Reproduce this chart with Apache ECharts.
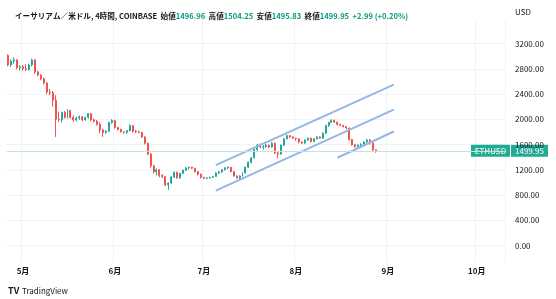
<!DOCTYPE html>
<html><head><meta charset="utf-8">
<script src="https://cdn.jsdelivr.net/npm/echarts@6/dist/echarts.min.js"></script>
<style>html,body{margin:0;padding:0;background:#fff}#c{width:556px;height:299px}</style>
</head><body><div id="c"></div>
<script>
// ---- data (daily candles, rows = [open, high, low, close]) ----
const startDate = '2022-04-26';
const dayCount = 168; // axis span through 10月10日
const aprCandles = [
  [3010,3030,2840,2860],[2860,2950,2830,2920],[2920,2980,2880,2940],[2940,2950,2790,2815],[2815,2860,2770,2830]
];
const mayCandles = [
  [2830,2860,2770,2800],[2800,2870,2760,2790],[2790,2880,2770,2860],[2860,2960,2840,2940],[2940,2950,2720,2750],
  [2750,2770,2680,2700],[2700,2710,2620,2640],[2640,2660,2550,2574],[2574,2590,2400,2430],[2430,2480,2380,2420],
  [2420,2450,2200,2300],[2300,2380,1720,2000],[2000,2120,1960,1990],[1990,2120,1950,2110],[2110,2130,2010,2030],
  [2030,2160,2010,2140],[2140,2150,2010,2030],[2030,2060,1960,1990],[1990,2040,1970,2020],[2020,2060,1990,2040],
  [2040,2050,1970,1990],[1990,2040,1980,2030],[2030,2100,2010,2090],[2090,2100,1970,1990],[1990,2010,1950,1970],
  [1970,1990,1900,1920],[1920,1950,1780,1830],[1830,1850,1720,1790],[1790,1830,1770,1810],[1810,1960,1800,1950],
  [1950,2000,1930,1980]
];
const junCandles = [
  [1980,1990,1850,1870],[1870,1880,1820,1840],[1840,1850,1790,1800],[1800,1810,1770,1790],[1790,1830,1770,1820],
  [1820,1920,1810,1900],[1900,1910,1790,1810],[1810,1830,1780,1800],[1800,1820,1780,1790],[1790,1800,1700,1720],
  [1720,1730,1600,1620],[1620,1630,1430,1450],[1450,1460,1230,1260],[1260,1280,1140,1170],[1170,1220,1110,1200],
  [1200,1210,1080,1110],[1110,1130,1070,1090],[1090,1100,940,960],[960,1000,880,990],[990,1100,980,1085],
  [1085,1170,1070,1160],[1160,1170,1060,1070],[1070,1150,1060,1145],[1145,1200,1130,1195],[1195,1240,1180,1230],
  [1230,1250,1200,1240],[1240,1250,1210,1225],[1225,1230,1160,1170],[1170,1180,1110,1130],[1130,1140,1060,1080]
];
const julCandles = [
  [1080,1090,1050,1065],[1065,1080,1050,1070],[1070,1090,1060,1080],[1080,1100,1070,1095],[1095,1160,1090,1150],
  [1150,1180,1130,1165],[1165,1210,1150,1200],[1200,1240,1190,1230],[1230,1250,1210,1240],[1240,1245,1160,1170],
  [1170,1180,1090,1100],[1100,1110,1060,1070],[1070,1110,1035,1100],[1100,1160,1090,1150],[1150,1250,1140,1240],
  [1240,1330,1230,1320],[1320,1400,1300,1390],[1390,1530,1380,1520],[1520,1610,1500,1590],[1590,1620,1540,1560],
  [1560,1590,1520,1565],[1565,1610,1550,1590],[1590,1600,1540,1560],[1560,1640,1550,1620],[1620,1630,1450,1465],
  [1465,1480,1380,1450],[1450,1600,1440,1590],[1590,1700,1580,1690],[1690,1760,1680,1740],[1740,1750,1700,1720],
  [1720,1730,1690,1700]
];
const augCandles = [
  [1700,1710,1660,1690],[1690,1700,1620,1640],[1640,1650,1610,1625],[1625,1680,1610,1670],[1670,1710,1660,1700],
  [1700,1710,1630,1645],[1645,1700,1640,1690],[1690,1730,1680,1720],[1720,1730,1690,1700],[1700,1790,1690,1780],
  [1780,1910,1770,1900],[1900,1960,1880,1950],[1950,2000,1940,1985],[1985,1990,1940,1955],[1955,1960,1900,1920],
  [1920,1930,1890,1905],[1905,1910,1870,1885],[1885,1890,1840,1860],[1860,1870,1660,1680],[1680,1690,1580,1595],
  [1595,1610,1550,1565],[1565,1600,1540,1590],[1590,1620,1570,1600],[1600,1650,1590,1640],[1640,1690,1630,1670],
  [1670,1690,1600,1625],[1625,1630,1500,1515],[1515,1520,1470,1499.95]
];
// channel lines: [date, price] endpoints
const channelUpper = [['2022-07-05',1273],['2022-09-03',2549]];
const channelMiddle = [['2022-07-05',870],['2022-09-03',2153]];
const channelLower = [['2022-08-15',1390],['2022-09-03',1806]];
// tick labels
const monthTickDates = ['2022-05-01','2022-06-01','2022-07-01','2022-08-01','2022-09-01','2022-10-01'];
const monthTickLabels = ['5月','6月','7月','8月','9月','10月'];
const yTicks = [0,400,800,1200,1600,2000,2400,2800,3200];
const lastPrice = 1499.95;
const symbolName = 'ETHUSD';
const titleMain = 'イーサリアム／米ドル, 4時間, COINBASE';
const ohlcNames = ['始値','高値','安値','終値'];
const ohlcValues = ['1496.96','1504.25','1495.83','1499.95'];
const changeText = '+2.99 (+0.20%)';

// ---- build ----
const categories = [];
{
  const d0 = new Date(startDate + 'T00:00:00Z');
  for (let i = 0; i < dayCount; i++) {
    const d = new Date(d0.getTime() + i * 86400000);
    categories.push(d.toISOString().slice(0, 10));
  }
}
const candles = [].concat(aprCandles, mayCandles, junCandles, julCandles, augCandles)
  .map(r => [r[0], r[3], r[2], r[1]]); // echarts order: open, close, low, high

const FONT = "'Noto Sans CJK JP','Noto Sans',sans-serif";
const UP = '#26a69a', DOWN = '#ef5350', TXT = '#131722', GRID = '#f0f3fa';
const isTick = (idx, val) => monthTickDates.indexOf(val) >= 0;

let titleText = '{t|' + titleMain + '}';
ohlcNames.forEach((n, i) => { titleText += '  {t|' + n + '}{v|' + ohlcValues[i] + '}'; });
titleText += '  {v|' + changeText + '}';

const chart = echarts.init(document.getElementById('c'), null, {renderer: 'canvas'});
const gridLeft = 6.7, gridRight = 51;
chart.setOption({
  animation: false,
  backgroundColor: '#ffffff',
  textStyle: {fontFamily: FONT},
  title: {
    left: 10, top: 7,
    text: titleText,
    textStyle: {
      fontSize: 7.6, fontFamily: FONT,
      rich: {
        t: {fontSize: 7.6, color: TXT, fontFamily: FONT},
        v: {fontSize: 7.6, color: '#089981', fontFamily: FONT}
      }
    }
  },
  grid: [
    {left: gridLeft, right: gridRight, top: 20, bottom: 36},
    {left: gridLeft, right: gridRight, top: 43.5, bottom: 53.5}
  ],
  xAxis: [
    {
      type: 'category', gridIndex: 0, data: categories,
      axisLine: {show: false}, axisTick: {show: false}, axisLabel: {show: false},
      splitLine: {show: true, interval: isTick, lineStyle: {color: GRID, width: 1}}
    },
    {
      type: 'category', gridIndex: 1, data: categories,
      axisLine: {show: false}, axisTick: {show: false},
      axisLabel: {
        interval: isTick, margin: 21, fontSize: 8, color: TXT, fontWeight: 'bold', fontFamily: FONT,
        formatter: v => monthTickLabels[monthTickDates.indexOf(v)] || ''
      },
      splitLine: {show: false}
    }
  ],
  yAxis: [
    {type: 'value', gridIndex: 0, min: 0, max: 1, show: false},
    {
      type: 'value', gridIndex: 1, position: 'right', min: yTicks[0], max: yTicks[yTicks.length - 1], interval: 400,
      axisLine: {show: false}, axisTick: {show: false},
      axisLabel: {margin: 10, fontSize: 8, color: TXT, fontFamily: FONT, formatter: v => v.toFixed(2)},
      splitLine: {show: true, lineStyle: {color: GRID, width: 1}}
    }
  ],
  series: [
    {
      type: 'candlestick', xAxisIndex: 1, yAxisIndex: 1, data: candles,
      barMaxWidth: 1.6,
      itemStyle: {color: UP, color0: DOWN, borderColor: UP, borderColor0: DOWN, borderWidth: 1},
      markLine: {
        silent: true, symbol: 'none', label: {show: false},
        lineStyle: {color: '#c4e3de', type: 'solid', width: 1},
        data: [{yAxis: lastPrice}]
      }
    },
    {type: 'line', xAxisIndex: 1, yAxisIndex: 1, data: channelUpper, symbol: 'none', lineStyle: {color: '#93b7e6', width: 2}},
    {type: 'line', xAxisIndex: 1, yAxisIndex: 1, data: channelMiddle, symbol: 'none', lineStyle: {color: '#93b7e6', width: 2}},
    {type: 'line', xAxisIndex: 1, yAxisIndex: 1, data: channelLower, symbol: 'none', lineStyle: {color: '#93b7e6', width: 2}}
  ]
});

const py = chart.convertToPixel({yAxisIndex: 1}, lastPrice);
chart.setOption({
  graphic: [
    {type: 'text', left: 515, top: 8, style: {text: 'USD', fontSize: 8, fill: TXT, fontFamily: FONT}},
    {type: 'rect', shape: {x: 471, y: py - 6, width: 39, height: 12}, style: {fill: '#22ab94'}},
    {type: 'text', x: 490.5, y: py, style: {text: symbolName, fontSize: 8, fill: '#fff', fontFamily: FONT, align: 'center', verticalAlign: 'middle'}},
    {type: 'rect', shape: {x: 511, y: py - 6, width: 37, height: 12}, style: {fill: '#22ab94'}},
    {type: 'text', x: 515, y: py, style: {text: lastPrice.toFixed(2), fontSize: 8, fill: '#fff', fontFamily: FONT, align: 'left', verticalAlign: 'middle'}},
    {type: 'text', x: 8, y: 291, style: {text: 'TV', fontSize: 9, fontWeight: 'bold', fill: TXT, fontFamily: FONT, verticalAlign: 'middle'}},
    {type: 'text', x: 22, y: 291, style: {text: 'TradingView', fontSize: 8, fill: TXT, fontFamily: FONT, verticalAlign: 'middle'}}
  ]
});
</script></body></html>
